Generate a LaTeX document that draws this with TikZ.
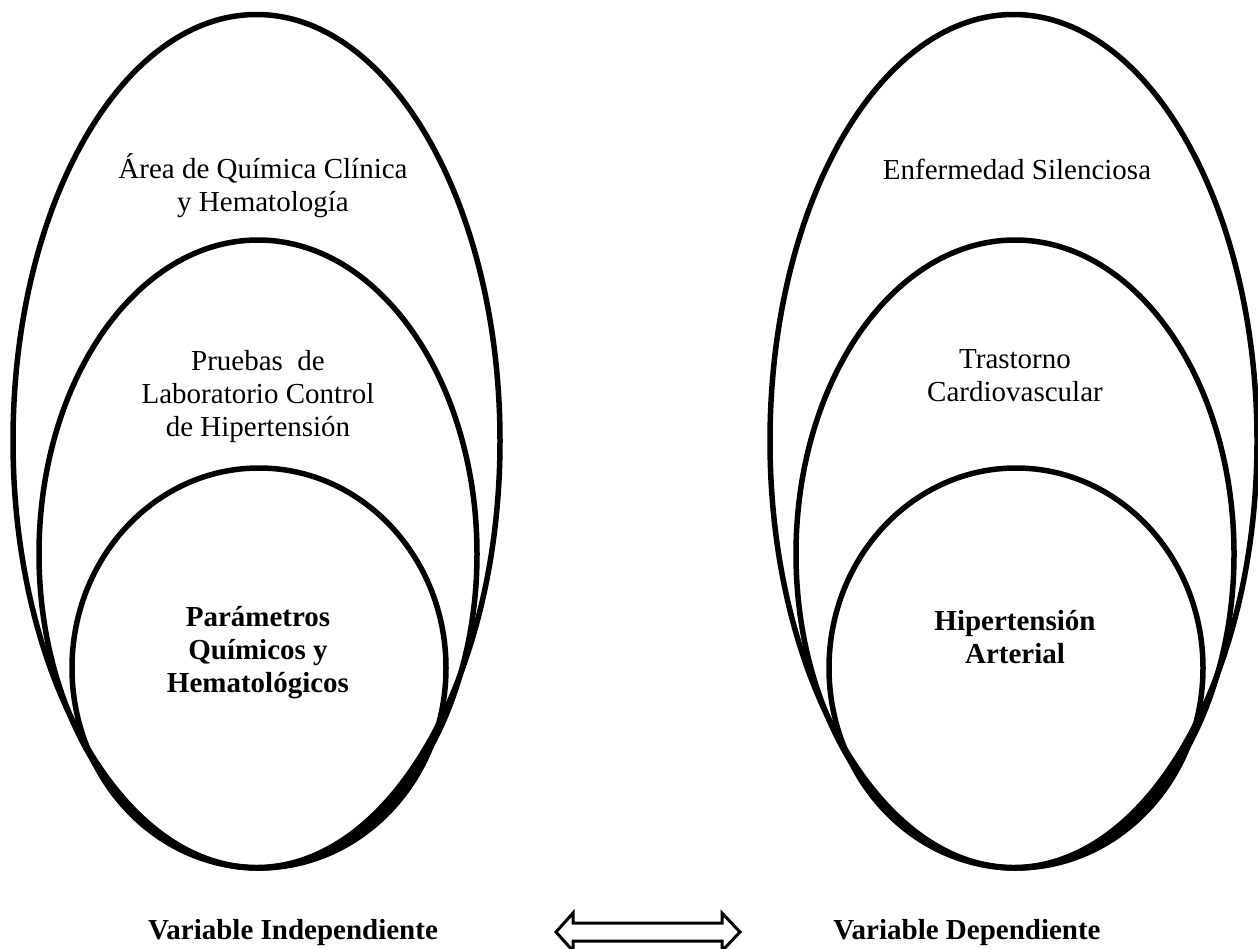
\documentclass[tikz,border=0pt]{standalone}
\usepackage{fontspec}
\setmainfont{Liberation Serif}
\usetikzlibrary{shapes.geometric,positioning}

\tikzset{
  ring/.style={draw, ellipse, line width=5.5pt, inner sep=0pt},
  txt/.style={align=center, font=\fontsize{29}{33}\selectfont},
  btxt/.style={align=center, font=\fontsize{29}{33}\selectfont\bfseries},
}

\begin{document}
\begin{tikzpicture}[x=1pt, y=-1pt, node distance=757pt]
    \useasboundingbox (0,0) rectangle (1258,948);
    % independiente
    \node(outL)[ring, minimum width=487pt, minimum height=853pt] at (256.5,441) {};
    \node(midL)[ring, minimum width=438pt, minimum height=628pt] at (258,554) {};
    \node(inL)[ring, minimum width=374pt, minimum height=400pt] at (259,668) {};
    \node(areaL)[txt] at (263,186) {Área de Química Clínica\\y Hematología};
    \node(pruebas)[txt] at (258,397) {Pruebas~ de\\Laboratorio Control\\de Hipertensión};
    \node(param)[btxt] at (258,653) {Parámetros\\Químicos y\\Hematológicos};
    % dependiente
    \node(outR)[ring, minimum width=487pt, minimum height=853pt, right of=outL] {};
    \node(midR)[ring, minimum width=438pt, minimum height=628pt, right of=midL] {};
    \node(inR)[ring, minimum width=374pt, minimum height=400pt, right of=inL] {};
    \node(enf)[txt] at (1017,169) {Enfermedad Silenciosa};
    \node(trast)[txt] at (1015,376) {Trastorno\\Cardiovascular};
    \node(hta)[btxt] at (1015,637) {Hipertensión\\Arterial};
    % variables
    \node(indep)[btxt] at (293,933) {Variable Independiente};
    \node(dep)[btxt, right of=indep, node distance=674pt] {Variable Dependiente};
    \coordinate(rel) at (648,932);
    \draw[line width=3pt] ([shift={(-92,0)}]rel) -- ++(17,-19) -- ++(0,10) -- ++(149,0)
      -- ++(0,-10) -- ++(18,19) -- ++(-18,19) -- ++(0,-10) -- ++(-149,0) -- ++(0,10) -- cycle;
  \end{tikzpicture}
\end{document}
